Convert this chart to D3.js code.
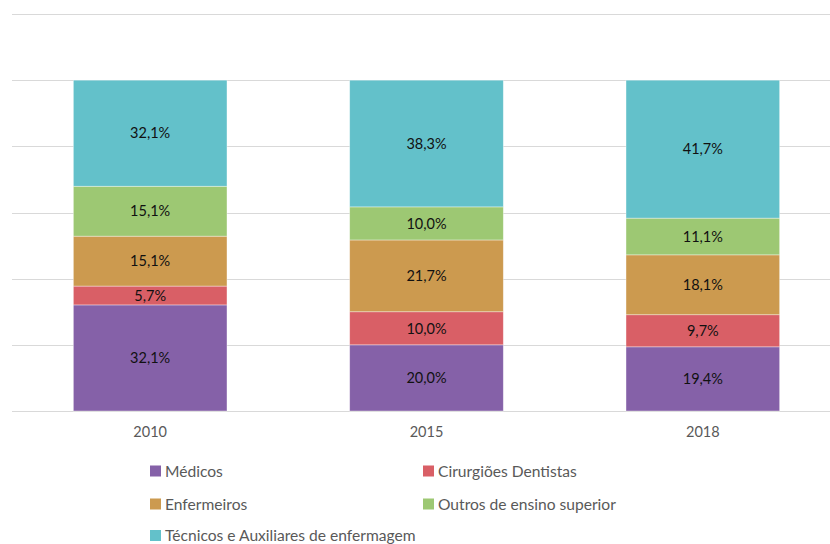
<!DOCTYPE html>
<html>
<head>
<meta charset="utf-8">
<script src="https://cdn.jsdelivr.net/npm/d3@7"></script>
<style>
  body { margin: 0; background: #fff; }
  svg { display: block; font-family: Lato, 'Open Sans', sans-serif; }
</style>
</head>
<body>
<div id="chart"></div>
<script>
const YEARS = ['2010', '2015', '2018'],
      SERIES = ['Médicos', 'Cirurgiões Dentistas', 'Enfermeiros', 'Outros de ensino superior', 'Técnicos e Auxiliares de enfermagem'],
      MEDICOS = [32.1, 20.0, 19.4],
      DENTISTAS = [5.7, 10.0, 9.7],
      ENFERMEIROS = [15.1, 21.7, 18.1],
      OUTROS = [15.1, 10.0, 11.1],
      TECNICOS = [32.1, 38.3, 41.7],
      COLORS = ['#8561a8', '#d95f66', '#cc9a4f', '#9dc873', '#63c1ca'],
      Y_TICKS = [0, 0.2, 0.4, 0.6, 0.8, 1.0, 1.2]

const SIZE = Object.freeze({ WIDTH: 830, HEIGHT: 544 }),
      PLOT = Object.freeze({ LEFT: 12, RIGHT: 841, TOP: 14, BOTTOM: 411 })

const values = [MEDICOS, DENTISTAS, ENFERMEIROS, OUTROS, TECNICOS]

// one row per year, shares normalised to 100% like the source chart
const table = YEARS.map((year, i) => {
  const row = { year }
  SERIES.forEach((s, k) => { row[s] = values[k][i] })
  row.total = d3.sum(values, v => v[i])
  return row
})

const formatPct = v => v.toFixed(1).replace('.', ',') + '%'

const xScale = d3.scaleBand()
  .domain(YEARS)
  .range([PLOT.LEFT, PLOT.RIGHT])
  .paddingInner(0.444)
  .paddingOuter(0.222)

const yScale = d3.scaleLinear()
  .domain([0, 1.2])
  .range([PLOT.BOTTOM, PLOT.TOP])

const color = d3.scaleOrdinal().domain(SERIES).range(COLORS)

const stack = d3.stack()
  .keys(SERIES)
  .value((d, key) => d[key] / d.total)

const layers = stack(table)

const svg = d3.select('#chart')
  .append('svg')
  .attr('width', SIZE.WIDTH)
  .attr('height', SIZE.HEIGHT)

// gridlines
svg.append('g')
  .selectAll('line')
  .data(Y_TICKS)
  .join('line')
  .attr('x1', PLOT.LEFT)
  .attr('x2', SIZE.WIDTH)
  .attr('y1', d => Math.round(yScale(d)) + 0.5)
  .attr('y2', d => Math.round(yScale(d)) + 0.5)
  .attr('stroke', '#d9d9d9')
  .attr('stroke-width', 1)

const groups = svg.append('g')
  .selectAll('g')
  .data(layers)
  .join('g')
  .attr('fill', d => color(d.key))

groups.selectAll('rect')
  .data(d => d)
  .join('rect')
  .attr('x', d => xScale(d.data.year))
  .attr('y', d => yScale(d[1]))
  .attr('width', xScale.bandwidth())
  .attr('height', d => yScale(d[0]) - yScale(d[1]))
  .attr('stroke', '#ffffff')
  .attr('stroke-opacity', 0.5)
  .attr('stroke-width', 0.75)

groups.selectAll('text')
  .data(d => d.map(p => ({ p, key: d.key })))
  .join('text')
  .attr('x', d => xScale(d.p.data.year) + xScale.bandwidth() / 2)
  .attr('y', d => (yScale(d.p[0]) + yScale(d.p[1])) / 2)
  .attr('dy', '0.36em')
  .attr('text-anchor', 'middle')
  .attr('fill', '#111')
  .style('font-size', '14.5px')
  .text(d => formatPct(d.p.data[d.key]))

// x axis labels
const xAxis = d3.axisBottom(xScale).tickSize(0).tickPadding(16)
svg.append('g')
  .attr('transform', `translate(0, ${PLOT.BOTTOM})`)
  .call(xAxis)
  .call(g => g.select('.domain').remove())
  .call(g => g.selectAll('text')
    .attr('fill', '#595959')
    .style('font-size', '14.5px')
    .style('font-family', 'Lato, sans-serif'))

// legend
const LEGEND_COLS = [150, 423],
      LEGEND_ROWS = [471, 504, 535.5]

const legend = svg.append('g')
  .selectAll('g')
  .data(SERIES)
  .join('g')
  .attr('transform', (d, i) => `translate(${LEGEND_COLS[i % 2]}, ${LEGEND_ROWS[Math.floor(i / 2)]})`)

legend.append('rect')
  .attr('x', 0)
  .attr('y', -5.5)
  .attr('width', 11)
  .attr('height', 11)
  .attr('fill', d => color(d))

legend.append('text')
  .attr('x', 15)
  .attr('dy', '0.36em')
  .attr('fill', '#595959')
  .style('font-size', '15.6px')
  .text(d => d)
</script>
</body>
</html>
